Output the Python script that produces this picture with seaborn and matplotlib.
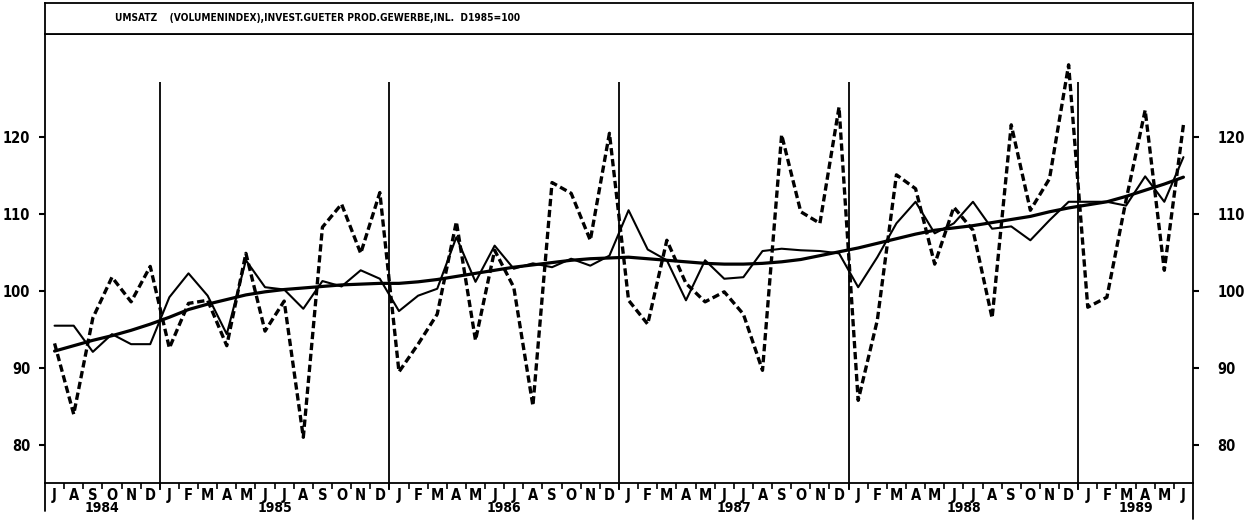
import numpy as np
import pandas as pd
import matplotlib
matplotlib.use("Agg")
import matplotlib.pyplot as plt
import matplotlib.transforms as mtransforms
import seaborn as sns

# ---------------- data ----------------
month_letters = (["J", "A", "S", "O", "N", "D"]
                 + ["J", "F", "M", "A", "M", "J", "J", "A", "S", "O", "N", "D"] * 4
                 + ["J", "F", "M", "A", "M", "J"])
years = ["1984", "1985", "1986", "1987", "1988", "1989"]

original = [93.2, 84.0, 96.5, 101.8, 98.6, 103.2,
            92.6, 98.4, 98.8, 92.9, 104.9, 94.8, 98.7, 81.0, 108.3, 111.3, 104.9, 112.8,
            89.5, 93.1, 97.0, 109.0, 93.6, 105.3, 100.5, 85.1, 114.1, 112.7, 106.6, 120.5,
            98.8, 95.7, 106.6, 101.0, 98.6, 99.9, 97.0, 89.7, 120.3, 110.3, 108.8, 123.9,
            85.8, 96.2, 115.1, 113.3, 103.5, 110.9, 107.9, 96.5, 121.6, 110.5, 114.6, 129.4,
            97.9, 99.2, 111.8, 123.5, 102.7, 121.6]

adjusted = [95.5, 95.5, 92.1, 94.4, 93.1, 93.1,
            99.2, 102.3, 99.4, 94.4, 104.0, 100.5, 100.2, 97.7, 101.3, 100.6, 102.7, 101.6,
            97.4, 99.4, 100.3, 107.0, 101.2, 105.9, 102.9, 103.6, 103.1, 104.2, 103.3, 104.6,
            110.5, 105.4, 104.0, 98.8, 104.0, 101.6, 101.8, 105.2, 105.5, 105.3, 105.2, 104.9,
            100.5, 104.4, 108.8, 111.6, 107.5, 108.8, 111.6, 108.1, 108.4, 106.6, 109.2, 111.6,
            111.6, 111.6, 111.1, 114.9, 111.6, 117.4]

trend = [92.2, 92.9, 93.6, 94.2, 94.9, 95.7,
         96.6, 97.6, 98.3, 98.9, 99.5, 99.9, 100.2, 100.4, 100.6, 100.8, 100.9, 101.0,
         101.0, 101.2, 101.5, 101.9, 102.3, 102.7, 103.1, 103.4, 103.7, 104.0, 104.2, 104.3,
         104.4, 104.2, 104.0, 103.8, 103.6, 103.5, 103.5, 103.6, 103.8, 104.1, 104.6, 105.1,
         105.6, 106.2, 106.8, 107.4, 107.9, 108.2, 108.5, 108.9, 109.3, 109.7, 110.3, 110.8,
         111.2, 111.6, 112.3, 113.1, 113.9, 114.8]

y_ticks = [80, 90, 100, 110, 120]
title = "UMSATZ    (VOLUMENINDEX),INVEST.GUETER PROD.GEWERBE,INL.  D1985=100"

n = len(original)
pos = np.arange(n) + 0.5
df = pd.DataFrame({"pos": pos, "original": original, "adjusted": adjusted, "trend": trend})

# ---------------- style ----------------
sns.set_style("white")
plt.rcParams["font.family"] = ["DejaVu Sans"]
plt.rcParams["font.stretch"] = "condensed"
plt.rcParams["font.weight"] = "bold"
plt.rcParams["text.color"] = "black"
plt.rcParams["xtick.color"] = "black"
plt.rcParams["ytick.color"] = "black"
plt.rcParams["xtick.labelcolor"] = "black"
plt.rcParams["ytick.labelcolor"] = "black"

W, H = 1256, 521
fig = plt.figure(figsize=(W / 100, H / 100), dpi=100)

px_left, px_right = 45, 1193
px_top_box, px_axes_top, px_axes_bot = 3, 34, 482.7
ax = fig.add_axes([px_left / W, (H - px_axes_bot) / H,
                   (px_right - px_left) / W, (px_axes_bot - px_axes_top) / H])
axt = fig.add_axes([px_left / W, (H - px_axes_top) / H,
                    (px_right - px_left) / W, (px_axes_top - px_top_box) / H])

lw_frame = 1.3
for a in (ax, axt):
    for s in a.spines.values():
        s.set_visible(True)
        s.set_color("black")
        s.set_linewidth(lw_frame)

# ---------------- series ----------------
sns.lineplot(data=df, x="pos", y="original", ax=ax, color="black",
             linewidth=2.4, linestyle=(0, (2.2, 1.1)), clip_on=False)
sns.lineplot(data=df, x="pos", y="adjusted", ax=ax, color="black",
             linewidth=1.5, clip_on=False)
sns.lineplot(data=df, x="pos", y="trend", ax=ax, color="black",
             linewidth=2.3, clip_on=False)

ymin, ymax = 75.1, 133.4
ax.set_xlim(0, n)
ax.set_ylim(ymin, ymax)
ax.set_xlabel("")
ax.set_ylabel("")

# year separator lines
year_bounds = [6, 18, 30, 42, 54]
ax.vlines(year_bounds, 74.1, 127.1, color="black", linewidth=1.3, clip_on=False)

# x ticks: month letters centred, short separators at boundaries
ax.set_xticks(pos, labels=month_letters)
ax.set_xticks(np.arange(1, n), minor=True)
ax.tick_params(axis="x", which="major", length=0, pad=3.5, labelsize=10.5)
ax.tick_params(axis="x", which="minor", length=4.5, width=1.2, direction="out",
               bottom=True, color="black")

# y ticks left
ax.set_yticks(y_ticks, labels=[str(v) for v in y_ticks])
ax.tick_params(axis="y", which="major", length=4.5, width=1.5, direction="out",
               left=True, pad=6, labelsize=10.5, color="black")

# y ticks right
ax2 = ax.twinx()
ax2.set_ylim(ymin, ymax)
ax2.set_yticks(y_ticks, labels=[str(v) for v in y_ticks])
ax2.tick_params(axis="y", which="major", length=4.5, width=1.5, direction="out",
                right=True, pad=13, labelsize=10.5, color="black")
for s in ax2.spines.values():
    s.set_visible(False)

# year labels
trans = mtransforms.blended_transform_factory(ax.transData, ax.transAxes)
starts = [0, 6, 18, 30, 42, 54]
ends = [6, 18, 30, 42, 54, 60]
for yr, s0, s1 in zip(years, starts, ends):
    ax.text((s0 + s1) / 2, -0.057, yr, transform=trans, ha="center", va="center",
            fontsize=10, fontweight="bold")

# axis lines extend below month strip
ax.plot([0, 0], [0, -0.063], transform=ax.transAxes, color="black",
        linewidth=lw_frame, clip_on=False)
ax.plot([1, 1], [0, -0.081], transform=ax.transAxes, color="black",
        linewidth=lw_frame, clip_on=False)

# title box
axt.set_xticks([])
axt.set_yticks([])
axt.set_xlim(0, 1)
axt.set_ylim(0, 1)
axt.text((115 - px_left) / (px_right - px_left), 0.52, title, ha="left", va="center",
         fontsize=7.3, fontweight="bold")

fig.savefig("out.png", dpi=100)
